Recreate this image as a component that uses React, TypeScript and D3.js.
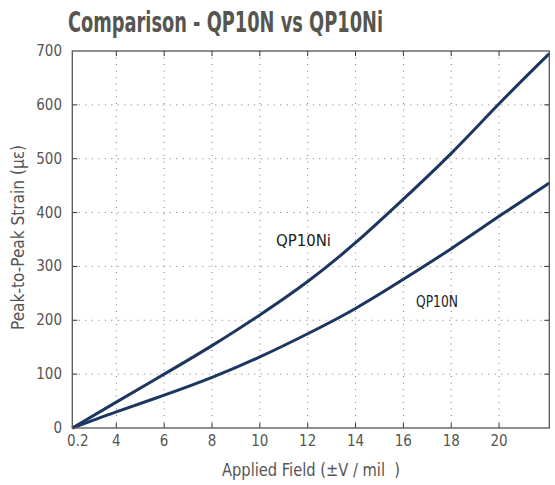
import React, { useEffect, useRef } from 'react';
import * as d3 from 'd3';

// applied field (V/mil); first point sits on the left edge of the plot
const fieldValues = [2.16, 4, 6, 8, 10, 12, 14, 16, 18, 20, 22.1];
const qp10ni = [0, 48, 100, 153, 210, 272, 344, 425, 510, 602, 695];
const qp10n = [0, 30, 61, 94, 132, 175, 222, 276, 333, 393, 455];

const xTicks = [4, 6, 8, 10, 12, 14, 16, 18, 20];
const yTicks = [0, 100, 200, 300, 400, 500, 600, 700];

const WIDTH = 555;
const HEIGHT = 485;
const FONT = '"Liberation Sans Narrow", "DejaVu Sans Condensed", "Roboto Condensed", sans-serif';

const App: React.FC = () => {
  const svgRef = useRef<SVGSVGElement>(null);

  useEffect(() => {
    if (!svgRef.current) return;
    const svg = d3.select(svgRef.current);
    svg.selectAll('*').remove();

    const left = 72.3, right = 549.3, top = 51, bottom = 428;

    const x = d3.scaleLinear().domain([2.16, 22.1]).range([left, right]);
    const y = d3.scaleLinear().domain([0, 700]).range([bottom, top]);

    svg.append('rect').attr('width', WIDTH).attr('height', HEIGHT).attr('fill', '#fff');

    // squeezed text helper: the reference uses a condensed face
    const squeezed = (tx: number, ty: number, s: string, size: number, len: number, color: string, bold = false) =>
      svg.append('text')
        .attr('x', tx)
        .attr('y', ty)
        .attr('textLength', len)
        .attr('lengthAdjust', 'spacingAndGlyphs')
        .text(s)
        .style('font-family', FONT)
        .style('font-weight', bold ? 'bold' : 'normal')
        .style('font-size', size + 'px')
        .style('fill', color);

    // title
    squeezed(68, 32, 'Comparison - QP10N vs QP10Ni', 28, 315, '#56564f', true);

    // grid
    const grid = svg.append('g');
    grid.selectAll('line.vx')
      .data(xTicks)
      .enter()
      .append('line')
      .attr('x1', d => x(d)).attr('x2', d => x(d))
      .attr('y1', top).attr('y2', bottom)
      .style('stroke', '#777')
      .style('stroke-width', 1)
      .style('stroke-dasharray', '1,5.5');
    grid.selectAll('line.hy')
      .data(yTicks.slice(1, -1))
      .enter()
      .append('line')
      .attr('x1', left).attr('x2', right)
      .attr('y1', d => y(d)).attr('y2', d => y(d))
      .style('stroke', '#777')
      .style('stroke-width', 1)
      .style('stroke-dasharray', '1,5.5');

    // inward tick marks
    const ticks = svg.append('g').style('stroke', '#333').style('stroke-width', 1);
    xTicks.forEach(t => {
      ticks.append('line').attr('x1', x(t)).attr('x2', x(t)).attr('y1', bottom).attr('y2', bottom - 5);
      ticks.append('line').attr('x1', x(t)).attr('x2', x(t)).attr('y1', top).attr('y2', top + 5);
    });
    yTicks.slice(1, -1).forEach(t => {
      ticks.append('line').attr('x1', left).attr('x2', left + 5).attr('y1', y(t)).attr('y2', y(t));
      ticks.append('line').attr('x1', right).attr('x2', right - 5).attr('y1', y(t)).attr('y2', y(t));
    });

    // curves
    const line = d3.line<number>()
      .x((_d, i) => x(fieldValues[i]))
      .y(d => y(d))
      .curve(d3.curveNatural);

    [qp10ni, qp10n].forEach(series => {
      svg.append('path')
        .datum(series)
        .attr('d', line)
        .style('fill', 'none')
        .style('stroke', '#1b365f')
        .style('stroke-width', 3);
    });

    // frame
    svg.append('rect')
      .attr('x', left).attr('y', top)
      .attr('width', right - left).attr('height', bottom - top)
      .style('fill', 'none')
      .style('stroke', '#555')
      .style('stroke-width', 1.3);

    // tick labels
    const labelStyle = (sel: any) => sel
      .style('font-family', FONT)
      .style('font-size', '15px')
      .style('fill', '#555');

    svg.append('g').selectAll('text')
      .data(xTicks)
      .enter()
      .append('text')
      .attr('x', d => x(d))
      .attr('y', 446)
      .attr('text-anchor', 'middle')
      .text(d => String(d))
      .call(labelStyle);
    svg.append('text')
      .attr('x', x(2.16) + 5.5)
      .attr('y', 446)
      .attr('text-anchor', 'middle')
      .text('0.2')
      .call(labelStyle);

    svg.append('g').selectAll('text')
      .data(yTicks)
      .enter()
      .append('text')
      .attr('x', 62)
      .attr('y', d => y(d) + 5)
      .attr('text-anchor', 'end')
      .text(d => String(d))
      .call(labelStyle);

    // axis titles
    squeezed(222, 476, 'Applied Field (\u00B1V / mil  )', 18, 178, '#555').style('white-space', 'pre');

    const yTitle = svg.append('g').attr('transform', 'translate(24,330) rotate(-90)');
    yTitle.append('text')
      .attr('x', 0).attr('y', 0)
      .attr('textLength', 185)
      .attr('lengthAdjust', 'spacingAndGlyphs')
      .text('Peak-to-Peak Strain (\u03BC\u03B5)')
      .style('font-family', FONT)
      .style('font-size', '18px')
      .style('fill', '#555');

    // series labels
    squeezed(276, 246, 'QP10Ni', 15, 55, '#222');
    squeezed(416, 307, 'QP10N', 15, 42, '#222');
  }, []);

  return (
    <svg
      ref={svgRef}
      width={WIDTH}
      height={HEIGHT}
      style={{ position: 'absolute', left: 0, top: 0 }}
    />
  );
};

export default App;
